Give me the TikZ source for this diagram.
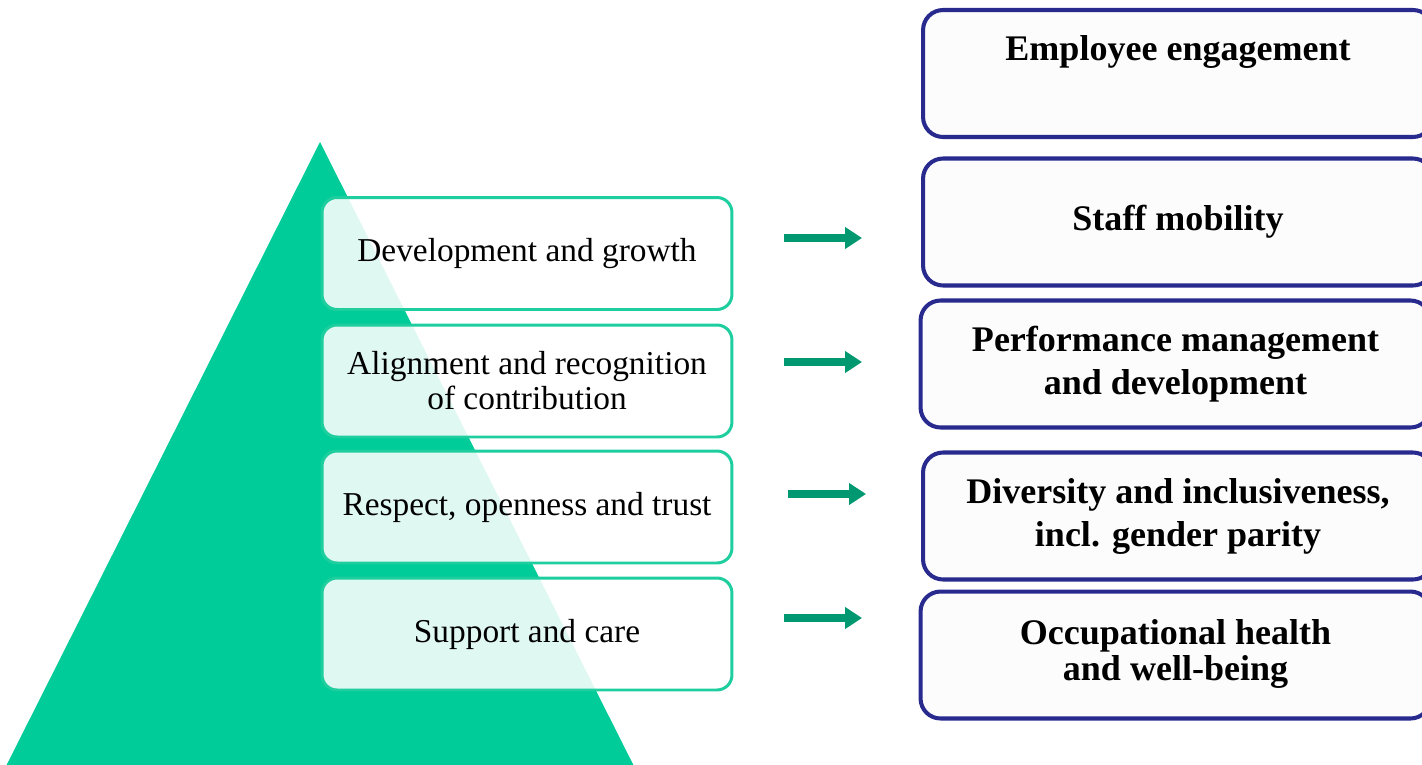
\documentclass[tikz,border=0pt]{standalone}
\usepackage{fontspec}
\setmainfont{Liberation Serif}
\usetikzlibrary{arrows.meta}
\definecolor{pyramid}{RGB}{0,204,153}
\definecolor{valueline}{RGB}{30,206,158}
\definecolor{outline}{RGB}{40,42,142}
\definecolor{arrowgreen}{RGB}{0,152,112}
\begin{document}
\begin{tikzpicture}[x=0.02cm,y=-0.02cm,
  value/.style={draw=valueline, line width=1.7pt, rounded corners=0.3cm,
    fill=white, fill opacity=0.88, text opacity=1, minimum width=8.2cm,
    minimum height=2.24cm, align=center, font=\fontsize{19}{20}\selectfont},
  area/.style={draw=outline, line width=2.3pt, rounded corners=0.4cm,
    fill=white!99!black, minimum width=10.2cm, minimum height=2.54cm,
    align=center, font=\bfseries\fontsize{20.5}{24.5}\selectfont},
  link/.style={arrowgreen, line width=4.5pt,
    -{Triangle[width=0.42cm,length=0.34cm]}}]
\useasboundingbox (0,0) rectangle (1422,764);
\clip (0,0) rectangle (1422,764);
\fill[pyramid] (320,142) -- (-11,800) -- (651,800) -- cycle;
\node[value] (growth) at (527,253.5) {Development and growth};
\node[value] (recognition) at (527,381) {Alignment and recognition\\of contribution};
\node[value] (trust) at (527,507) {Respect, openness and trust};
\node[value] (care) at (527,634) {Support and care};
\node[area] (engagement) at (1178,73.5) {};
\node[font=\bfseries\fontsize{20.5}{24.5}\selectfont] (engtext) at (1178,52) {Employee engagement};
\node[area] (mobility) at (1178,222) {\raisebox{2pt}{Staff mobility}};
\node[area] (performance) at (1175.5,364) {Performance management\\and development};
\node[area] (diversity) at (1178,516) {Diversity and inclusiveness,\\incl. gender parity};
\node[area, font=\bfseries\fontsize{20.5}{21}\selectfont] (health) at (1175.5,655)
  {Occupational health\\and well-being\rule[-0.2cm]{0pt}{0pt}};
\coordinate (s1) at (784,238); \coordinate (e1) at (862,238);
\coordinate (s2) at (784,362); \coordinate (e2) at (862,362);
\coordinate (s3) at (788,494); \coordinate (e3) at (866,494);
\coordinate (s4) at (784,618); \coordinate (e4) at (862,618);
\draw[link] (s1) -- (e1);
\draw[link] (s2) -- (e2);
\draw[link] (s3) -- (e3);
\draw[link] (s4) -- (e4);
\end{tikzpicture}
\end{document}
